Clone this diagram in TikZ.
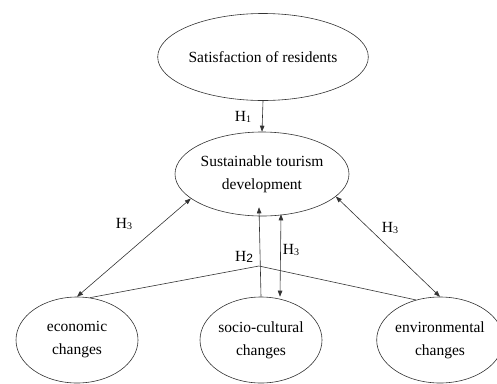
\documentclass[tikz,border=0pt]{standalone}
\usepackage{fontspec}
\setmainfont{Liberation Serif}
\setsansfont{Liberation Sans}
\usetikzlibrary{shapes.geometric,arrows.meta}
\newcommand{\hsub}[1]{\raisebox{-1pt}{\fontsize{10}{10}\selectfont #1}}
\begin{document}
\begin{tikzpicture}[x=1pt,y=-1pt,
  oval/.style={draw, ellipse, inner sep=0pt, align=center, font=\fontsize{15.5}{23}\selectfont, line width=0.6pt, draw=black!80},
  arr/.style={-{Triangle[length=6pt,width=4.5pt]}, line width=0.6pt, draw=black!80},
  darr/.style={{Triangle[length=6pt,width=4.5pt]}-{Triangle[length=6pt,width=4.5pt]}, line width=0.6pt, draw=black!80},
  plain/.style={line width=0.6pt, draw=black!80},
  hlab/.style={font=\fontsize{15.5}{16}\selectfont, inner sep=0pt}]
\useasboundingbox (0,0) rectangle (497,383);
\node[oval, minimum width=171pt, minimum height=87pt] (sat) at (263,57) {Satisfaction of residents};
\node[oval, minimum width=174pt, minimum height=84pt] (std) at (262,174) {Sustainable tourism\\development};
\node[oval, minimum width=122pt, minimum height=86pt] (eco) at (77,340) {economic\\changes};
\node[oval, minimum width=122pt, minimum height=86pt] (soc) at (261,340) {socio-cultural\\changes};
\node[oval, minimum width=116pt, minimum height=86pt] (env) at (440,340) {environmental\\changes};
\coordinate (apex) at (259,266);
% H1
\draw[arr] (sat.south) -- (std.north);
\node[hlab] (h1) at (243,117) {H\hsub{1}};
% H3 left
\draw[darr] (std.199) -- (eco.north);
\node[hlab] (h3a) at (124,224) {H\hsub{3}};
% H3 right
\draw[darr] (std.343) -- (env.north);
\node[hlab] (h3c) at (390,228) {H\hsub{3}};
% H3 middle
\draw[darr] ([xshift=19pt,yshift=2pt]std.south) -- ([xshift=19pt]soc.north);
\node[hlab] (h3b) at (291,250) {H\hsub{3}};
% H2
\draw[plain] (eco.73) -- (apex) -- (env.121);
\draw[arr] (soc.north) -- ([xshift=-3pt,yshift=9pt]std.south);
\node[hlab] (h2) at (244,257) {H\raisebox{-0.5pt}{\sffamily\fontsize{12}{12}\selectfont 2}};
\end{tikzpicture}
\end{document}
